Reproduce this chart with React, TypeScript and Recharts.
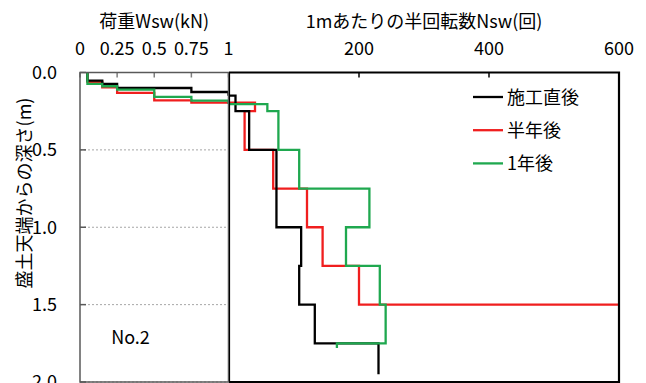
import React from 'react';
import {
  LineChart,
  Line,
  XAxis,
  YAxis,
  CartesianGrid,
  ReferenceArea,
  ReferenceDot,
  Legend,
  Label,
} from 'recharts';

const FONT = "'Noto Sans CJK JP', 'Noto Sans', sans-serif";

// Axis ticks
const depthTicks = [0, 0.5, 1.0, 1.5, 2.0];
const loadTicks = [0, 0.25, 0.5, 0.75, 1];
const turnTicks = [200, 400, 600];
const turnGridTicks = [0.5, 1.0, 1.5];

// 施工直後: load stages (kN) with the depth (m) each stage sank to, then Nsw per layer
const blackLoad = [0.05, 0.15, 0.25, 0.75, 1.0];
const blackLoadDepth = [0.053, 0.073, 0.1, 0.126, 0.15];
const blackNsw = [10, 31, 73, 111, 108, 132, 230];
const blackNswDepth = [0.25, 0.5, 1.0, 1.25, 1.5, 1.75, 1.95];

// 半年後
const redLoad = [0.05, 0.15, 0.25, 0.5, 0.75];
const redLoadDepth = [0.061, 0.096, 0.132, 0.18, 0.195];
const redNsw = [40, 24, 68, 120, 144, 200, 600];
const redNswDepth = [0.25, 0.5, 0.75, 1.0, 1.25, 1.5, 1.5];

// 1年後
const greenLoad = [0.05, 0.15, 0.25, 0.5, 0.75, 1.0];
const greenLoadDepth = [0.074, 0.089, 0.111, 0.158, 0.182, 0.204];
const greenNsw = [59, 76, 108, 216, 180, 232, 241, 166];
const greenNswDepth = [0.25, 0.5, 0.75, 1.0, 1.25, 1.5, 1.75, 1.78];

const siteLabel = 'No.2';
const siteLabelAt = { load: 0.34, depth: 1.71 };

type Pt = { x: number; d: number };

// Step profile of load vs depth, ending on the 1 kN boundary
function loadProfile(loads: number[], depths: number[]): Pt[] {
  const pts: Pt[] = [];
  let top = 0;
  loads.forEach((w, i) => {
    pts.push({ x: w, d: top });
    pts.push({ x: w, d: depths[i] });
    top = depths[i];
  });
  pts.push({ x: 1, d: top });
  return pts;
}

// Step profile of Nsw vs depth, starting where the load stages stopped
function turnProfile(values: number[], depths: number[], start: number): Pt[] {
  const pts: Pt[] = [{ x: 0, d: start }];
  let top = start;
  values.forEach((n, i) => {
    pts.push({ x: n, d: top });
    pts.push({ x: n, d: depths[i] });
    top = depths[i];
  });
  return pts;
}

const series = [
  {
    name: '施工直後',
    color: '#000000',
    left: loadProfile(blackLoad, blackLoadDepth),
    right: turnProfile(blackNsw, blackNswDepth, blackLoadDepth[blackLoadDepth.length - 1]),
  },
  {
    name: '半年後',
    color: '#f01e1e',
    left: loadProfile(redLoad, redLoadDepth),
    right: turnProfile(redNsw, redNswDepth, redLoadDepth[redLoadDepth.length - 1]),
  },
  {
    name: '1年後',
    color: '#1fa84f',
    left: loadProfile(greenLoad, greenLoadDepth),
    right: turnProfile(greenNsw, greenNswDepth, greenLoadDepth[greenLoadDepth.length - 1]),
  },
];

// red underneath, then black, green on top
const drawOrder = [1, 0, 2];

const LINE_W = 2.3;

const tickStyle = { fontSize: 18, fill: '#000', fontFamily: FONT };

const DepthTitle = () => (
  <text
    x={23}
    y={193}
    transform="rotate(-90 23 193)"
    textAnchor="middle"
    dominantBaseline="central"
    fontSize={18}
    fontFamily={FONT}
    fill="#000"
  >
    盛土天端からの深さ(m)
  </text>
);

const LegendBox = () => (
  <svg width={150} height={100} style={{ display: 'block', overflow: 'visible' }}>
    {series.map((s, i) => {
      const cy = 17 + i * 33.2;
      return (
        <g key={s.name}>
          <line x1={0} x2={30} y1={cy + 1} y2={cy + 1} stroke={s.color} strokeWidth={LINE_W} />
          <text x={34} y={cy} dominantBaseline="central" fontSize={18} fontFamily={FONT} fill="#000">
            {s.name}
          </text>
        </g>
      );
    })}
  </svg>
);

export default function App() {
  return (
    <div
      style={{
        position: 'absolute',
        left: 0,
        top: 0,
        width: 646,
        height: 383,
        overflow: 'hidden',
        background: '#fff',
        fontFamily: FONT,
      }}
    >
      <div style={{ position: 'absolute', left: 0, top: 0 }}>
        <LineChart width={240} height={400} margin={{ top: 0, right: 11.5, bottom: 18, left: 0 }}>
          <CartesianGrid vertical={false} stroke="#a6a6a6" strokeDasharray="2 2" />
          <XAxis
            xAxisId={0}
            type="number"
            dataKey="x"
            orientation="top"
            domain={[0, 1]}
            ticks={loadTicks}
            interval={0}
            height={72.5}
            axisLine={false}
            tickSize={-5}
            tickMargin={22.5}
            tickLine={{ stroke: '#7f7f7f', strokeWidth: 1.5 }}
            tick={tickStyle}
            tickFormatter={(v: number) => String(v)}
          >
            <Label value="荷重Wsw(kN)" position="insideTop" offset={15} fontSize={18} fill="#000" fontFamily={FONT} />
          </XAxis>
          <YAxis
            yAxisId={0}
            type="number"
            domain={[0, 2]}
            reversed
            ticks={depthTicks}
            interval={0}
            width={80}
            axisLine={false}
            tickSize={-6}
            tickMargin={29}
            tickLine={{ stroke: '#595959', strokeWidth: 1.5 }}
            tick={tickStyle}
            tickFormatter={(v: number) => v.toFixed(1)}
          >
            <Label content={DepthTitle} />
          </YAxis>
          {drawOrder.map((i) => (
            <Line
              key={series[i].name}
              data={series[i].left}
              dataKey="d"
              name={series[i].name}
              type="linear"
              stroke={series[i].color}
              strokeWidth={LINE_W}
              dot={false}
              activeDot={false}
              isAnimationActive={false}
            />
          ))}
          <ReferenceDot
            x={siteLabelAt.load}
            y={siteLabelAt.depth}
            r={0}
            fill="none"
            stroke="none"
            label={{ value: siteLabel, position: 'center', fontSize: 18, fill: '#000', fontFamily: FONT }}
          />
          <ReferenceArea
            x1={0}
            x2={1}
            y1={0}
            y2={2}
            fill="none"
            fillOpacity={0}
            stroke="#595959"
            strokeWidth={1.5}
            ifOverflow="visible"
            zIndex={1000}
          />
        </LineChart>
      </div>

      <div style={{ position: 'absolute', left: 229, top: 0 }}>
        <LineChart width={417} height={400} margin={{ top: 0, right: 27, bottom: 18, left: 0 }}>
          <CartesianGrid vertical={false} stroke="#a6a6a6" strokeDasharray="2 2" />
          <XAxis
            type="number"
            dataKey="x"
            orientation="top"
            domain={[0, 600]}
            ticks={turnTicks}
            interval={0}
            height={72.5}
            axisLine={false}
            tickSize={-5}
            tickMargin={22.5}
            tickLine={{ stroke: '#000', strokeWidth: 1.5 }}
            tick={tickStyle}
          >
            <Label
              value="1mあたりの半回転数Nsw(回)"
              position="insideTop"
              offset={15}
              fontSize={18}
              fill="#000"
              fontFamily={FONT}
            />
          </XAxis>
          <YAxis
            type="number"
            domain={[0, 2]}
            reversed
            ticks={turnGridTicks}
            interval={0}
            width={0}
            axisLine={false}
            tickSize={-6}
            tick={false}
            tickLine={{ stroke: '#000', strokeWidth: 1.5 }}
          />
          {drawOrder.map((i) => (
            <Line
              key={series[i].name}
              data={series[i].right}
              dataKey="d"
              name={series[i].name}
              type="linear"
              stroke={series[i].color}
              strokeWidth={LINE_W}
              dot={false}
              activeDot={false}
              isAnimationActive={false}
            />
          ))}
          <ReferenceArea
            x1={0}
            x2={600}
            y1={0}
            y2={2}
            fill="none"
            fillOpacity={0}
            stroke="#000"
            strokeWidth={2.2}
            ifOverflow="visible"
            zIndex={1000}
          />
          <Legend
            layout="vertical"
            align="center"
            verticalAlign="middle"
            content={LegendBox}
            wrapperStyle={{ left: 244, top: 79, width: 150, height: 100 }}
          />
        </LineChart>
      </div>
    </div>
  );
}
